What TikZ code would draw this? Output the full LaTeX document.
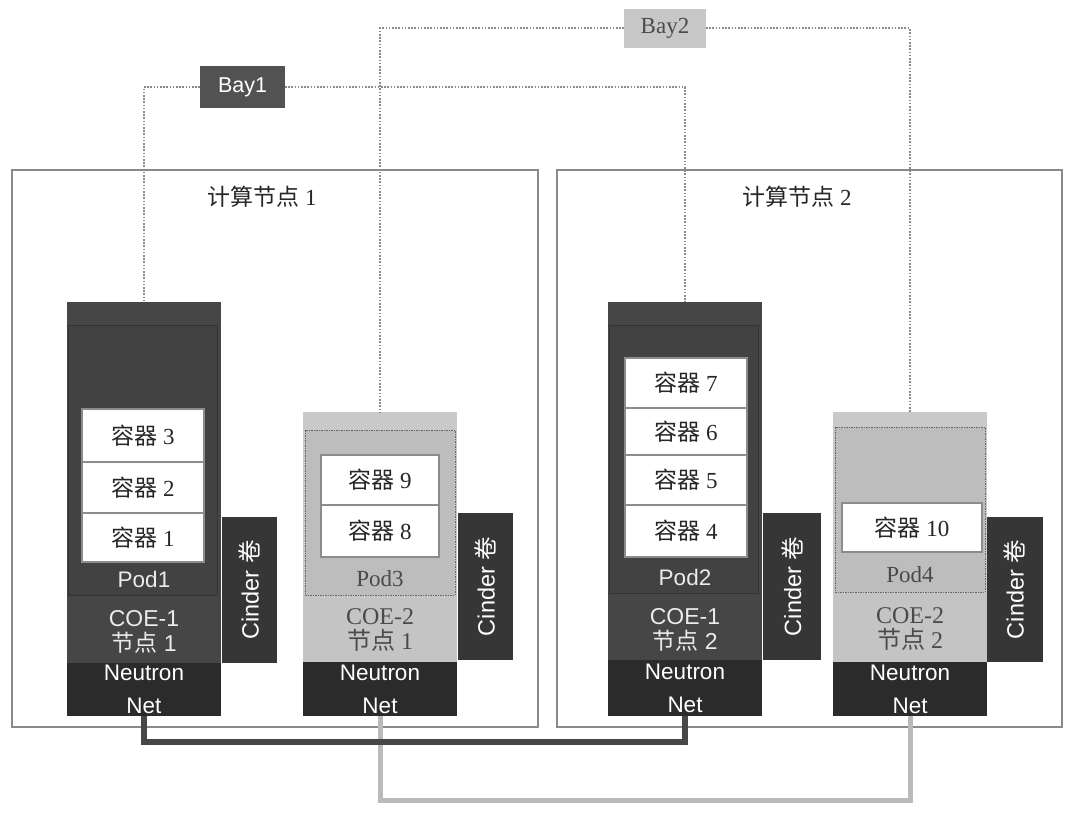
\documentclass[tikz,border=0pt]{standalone}
\usepackage{fontspec}
\setmainfont{Liberation Serif}
\newfontfamily\cjk{Noto Sans CJK SC}
\newfontfamily\arialf{Liberation Sans}
\definecolor{colD}{HTML}{464646}
\definecolor{podD}{HTML}{424242}
\definecolor{netD}{HTML}{2B2B2B}
\definecolor{cinD}{HTML}{363636}
\definecolor{colL}{HTML}{C9C9C9}
\definecolor{podL}{HTML}{BDBDBD}
\definecolor{coeL}{HTML}{C4C4C4}
\definecolor{txtL}{HTML}{4A4A4A}
\definecolor{frameC}{HTML}{8A8A8A}
\definecolor{dotC}{HTML}{8A8A8A}
% \R{name}{style}{x1}{y1}{x2}{y2}{text}
\newcommand\R[7]{\node[#2,minimum width={(#5-#3)*1pt},minimum height={(#6-#4)*1pt}] (#1) at ({(#3+#5)/2},{(#4+#6)/2}) {#7};}
\begin{document}
\begin{tikzpicture}[x=1pt,y=-1pt,
  box/.style={inner sep=0pt,outer sep=0pt},
  frame/.style={box,draw=frameC,line width=1.2pt},
  title/.style={font=\fontsize{23}{26}\selectfont,text=black!85},
  coldark/.style={box,fill=colD},
  collight/.style={box,fill=colL},
  poddark/.style={box,fill=podD,draw=black!80,line width=1pt},
  podlight/.style={box,fill=podL,draw=black!60,dash pattern=on 1.5pt off 1pt,line width=1pt},
  cont/.style={box,fill=white,draw=black!45,line width=1.5pt,font=\fontsize{23}{26}\selectfont,text=black!85},
  podtxtD/.style={font=\arialf\fontsize{22.5}{25}\selectfont,text=white!92!black},
  podtxtL/.style={font=\fontsize{23}{25}\selectfont,text=txtL},
  coetxtD/.style={align=center,font=\arialf\fontsize{23}{25}\selectfont,text=white!92!black,inner sep=0pt},
  coetxtL/.style={align=center,font=\fontsize{24}{25}\selectfont,text=txtL,inner sep=0pt},
  netbox/.style={box,fill=netD,align=center,font=\arialf\fontsize{22.5}{25}\selectfont,text=white},
  cinder/.style={box,fill=cinD,font=\arialf\fontsize{23.5}{26}\selectfont,text=white},
  bayD/.style={box,fill=black!68,text=white,font=\arialf\fontsize{21.5}{25}\selectfont},
  bayL/.style={box,fill=black!22,text=black!70,font=\fontsize{23}{26}\selectfont},
  dotline/.style={draw=dotC,line width=2pt,dash pattern=on 1.6pt off 1.6pt},
  darklink/.style={draw=black!72,line width=5.5pt},
  lightlink/.style={draw=black!27,line width=5pt}
]
\useasboundingbox[fill=white] (0,0) rectangle (1073,816);

% outer compute nodes
\R{host1}{frame}{12}{170}{538}{727}{}
\R{host2}{frame}{557}{170}{1062}{727}{}
\node[title] (t1) at (262,197) {{\cjk 计算节点} 1};
\node[title] (t2) at (797,197) {{\cjk 计算节点} 2};

% Bays
\R{bay1}{bayD}{200}{66}{285}{108}{Bay1}
\R{bay2}{bayL}{624}{9}{706}{48}{Bay2}

% ---- Column 1 : COE-1 node 1 ----
\R{cin1}{cinder}{222}{517}{277}{663}{}
\node[cinder,rotate=90] (cin1t) at (cin1.center) {Cinder {\cjk 卷}};
\R{col1}{coldark}{67}{302}{221}{716}{}
\R{pod1}{poddark}{68}{325}{217}{595}{}
\R{c3}{cont}{82}{409}{204}{462}{{\cjk 容器} 3}
\R{c2}{cont}{82}{462}{204}{513}{{\cjk 容器} 2}
\R{c1}{cont}{82}{513}{204}{562}{{\cjk 容器} 1}
\node[podtxtD] (p1) at (144,579) {Pod1};
\node[coetxtD] (coe1) at (144,632) {COE-1\\{\cjk 节点} 1};
\R{n1}{netbox}{67}{663}{221}{716}{Neutron\\[8pt]Net}

% ---- Column 2 : COE-2 node 1 ----
\R{cin2}{cinder}{458}{513}{513}{660}{}
\node[cinder,rotate=90] (cin2t) at (cin2.center) {Cinder {\cjk 卷}};
\R{col2}{collight}{303}{412}{457}{716}{}
\R{coe2bg}{box,fill=coeL}{303}{595}{457}{662}{}
\R{pod3}{podlight}{305}{430}{455}{595}{}
\R{c9}{cont}{321}{455}{439}{505}{{\cjk 容器} 9}
\R{c8}{cont}{321}{505}{439}{557}{{\cjk 容器} 8}
\node[podtxtL] (p3) at (380,579) {Pod3};
\node[coetxtL] (coe2) at (380,630) {COE-2\\{\cjk 节点} 1};
\R{n2}{netbox}{303}{662}{457}{716}{Neutron\\[8pt]Net}

% ---- Column 3 : COE-1 node 2 ----
\R{cin3}{cinder}{763}{513}{821}{660}{}
\node[cinder,rotate=90] (cin3t) at (cin3.center) {Cinder {\cjk 卷}};
\R{col3}{coldark}{608}{302}{762}{716}{}
\R{pod2}{poddark}{609}{325}{758}{593}{}
\R{c7}{cont}{625}{358}{747}{408}{{\cjk 容器} 7}
\R{c6}{cont}{625}{408}{747}{455}{{\cjk 容器} 6}
\R{c5}{cont}{625}{455}{747}{505}{{\cjk 容器} 5}
\R{c4}{cont}{625}{505}{747}{557}{{\cjk 容器} 4}
\node[podtxtD] (p2) at (685,577) {Pod2};
\node[coetxtD] (coe3) at (685,630) {COE-1\\{\cjk 节点} 2};
\R{n3}{netbox}{608}{660}{762}{716}{Neutron\\[8pt]Net}

% ---- Column 4 : COE-2 node 2 ----
\R{cin4}{cinder}{986}{517}{1043}{662}{}
\node[cinder,rotate=90] (cin4t) at (cin4.center) {Cinder {\cjk 卷}};
\R{col4}{collight}{833}{412}{987}{716}{}
\R{coe4bg}{box,fill=coeL}{833}{592}{987}{662}{}
\R{pod4}{podlight}{835}{427}{985}{592}{}
\R{c10}{cont}{842}{503}{982}{552}{{\cjk 容器} 10}
\node[podtxtL] (p4) at (910,575) {Pod4};
\node[coetxtL] (coe4) at (910,629) {COE-2\\{\cjk 节点} 2};
\R{n4}{netbox}{833}{662}{987}{716}{Neutron\\[8pt]Net}

% dotted bay links
\draw[dotline] (bay1.west) -| (col1.north);
\draw[dotline] (bay1.east) -| (col3.north);
\draw[dotline] (bay2.west) -| (col2.north);
\draw[dotline] (bay2.east) -| (col4.north);

% network links
\draw[lightlink] (n2.south) -- ++(0,84) -| (n4.south);
\draw[darklink] (n1.south) -- ++(0,26) -| (n3.south);
\end{tikzpicture}
\end{document}
